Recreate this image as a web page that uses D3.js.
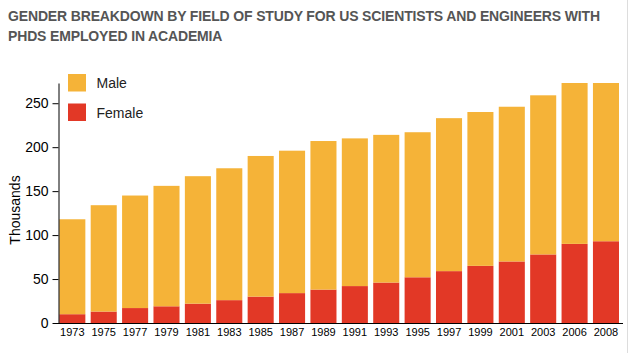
<!DOCTYPE html>
<html><head><meta charset="utf-8">
<script src="https://cdn.jsdelivr.net/npm/d3@7"></script>
<style>
body{margin:0;background:#fff;}
svg{display:block;font-family:"Liberation Sans",Arial,Helvetica,sans-serif;}
</style></head>
<body>
<svg id="chart" width="630" height="353"></svg>
<script>
const years = ["1973","1975","1977","1979","1981","1983","1985","1987","1989","1991","1993","1995","1997","1999","2001","2003","2006","2008"];
const female = [10,13,17,19,22,26,30,34,38,42,46,52,59,65,70,78,90,93];
const male = [108,121,128,137,145,150,160,162,169,168,168,165,174,175,176,181,183,180];
const yTicks = [0,50,100,150,200,250];
const seriesNames = ["Male","Female"];
const colors = {Male:"#f5b338", Female:"#e23826"};
const titleLines = ["GENDER BREAKDOWN BY FIELD OF STUDY FOR US SCIENTISTS AND ENGINEERS WITH","PHDS EMPLOYED IN ACADEMIA"];

const svg = d3.select("#chart");
const rows = years.map((y,i)=>({year:y, Female:female[i], Male:male[i]}));
const stack = d3.stack().keys(["Female","Male"])(rows);

const x = d3.scaleBand().domain(years).range([59.3, 619]).paddingInner(0.17).paddingOuter(0);
const y = d3.scaleLinear().domain([0, d3.max(rows, d=>d.Female+d.Male)]).range([323, 83]);

// title
svg.append("g").selectAll("text").data(titleLines).join("text")
  .attr("x", 8).attr("y", (d,i)=>21+i*20)
  .attr("font-size", 14).attr("font-weight", "bold").attr("fill", "#555")
  .attr("letter-spacing", "-0.15")
  .text(d=>d);

// right border
svg.append("line").attr("x1",627.5).attr("x2",627.5).attr("y1",0).attr("y2",353)
  .attr("stroke","#ddd");

// bars
svg.append("g").selectAll("g").data(stack).join("g")
  .attr("fill", d=>colors[d.key])
  .selectAll("rect").data(d=>d).join("rect")
  .attr("x", d=>x(d.data.year)).attr("width", x.bandwidth())
  .attr("y", d=>y(d[1])).attr("height", d=>y(d[0])-y(d[1]));

// y axis
const yAxis = svg.append("g").attr("transform","translate(58.5,0)")
  .call(d3.axisLeft(y).tickValues(yTicks).tickSize(6).tickSizeOuter(0));
yAxis.select(".domain").attr("stroke","#000");
yAxis.selectAll("text").attr("font-size",14).attr("font-family","Liberation Sans, Arial, sans-serif").attr("fill","#000").attr("dx","-1");

// x axis
const xAxis = svg.append("g").attr("transform","translate(0,323.5)")
  .call(d3.axisBottom(x).tickSize(0).tickPadding(5));
xAxis.select(".domain").remove();
xAxis.selectAll("text").attr("font-size",11).attr("font-family","Liberation Sans, Arial, sans-serif").attr("fill","#000");
svg.append("line").attr("x1",58).attr("x2",623).attr("y1",323.5).attr("y2",323.5).attr("stroke","#000");

// y label
svg.append("text").attr("transform","translate(20,210) rotate(-90)")
  .attr("text-anchor","middle").attr("font-size",14).attr("fill","#000").text("Thousands");

// legend
const lg = svg.append("g").selectAll("g").data(seriesNames).join("g")
  .attr("transform",(d,i)=>`translate(68,${74+i*29.5})`);
lg.append("rect").attr("width",18).attr("height",17.5).attr("fill",d=>colors[d]);
lg.append("text").attr("x",28.5).attr("y",14).attr("font-size",14).attr("fill","#222").text(d=>d);
</script>
</body></html>
